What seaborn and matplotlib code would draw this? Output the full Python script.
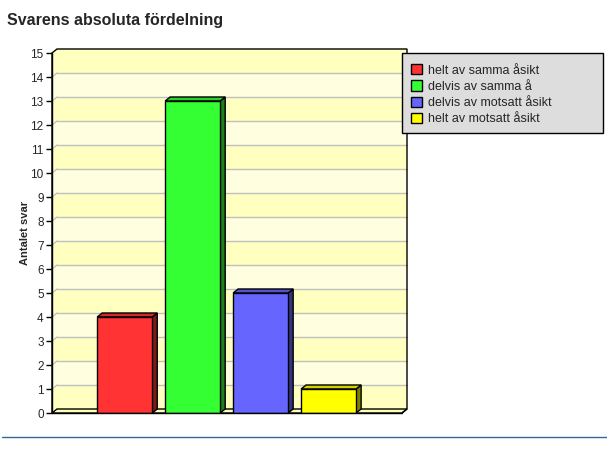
import pandas as pd
import seaborn as sns
import matplotlib.pyplot as plt
import matplotlib.transforms as mtransforms
from matplotlib.patches import Polygon, Rectangle, Patch
from matplotlib.lines import Line2D
import matplotlib.colors as mcolors

# Data
svar = ['helt av samma åsikt', 'delvis av samma å', 'delvis av motsatt åsikt', 'helt av motsatt åsikt']
antal = [4, 13, 5, 1]
farger = ['#FF3333', '#33FF33', '#6666FF', '#FFFF00']
y_ticks = list(range(0, 16))

df = pd.DataFrame({'Svar': svar, 'Antal': antal})

sns.set_style('white')
plt.rcParams['font.family'] = ['Liberation Sans', 'DejaVu Sans']

W, H = 607, 459
fig = plt.figure(figsize=(W / 100, H / 100), dpi=100)
ax = fig.add_axes([52 / W, (H - 413) / H, 350 / W, 360 / H])

# front faces first, so that the limits are set afterwards
sns.barplot(data=df, x='Svar', y='Antal', hue='Svar', palette=farger, width=0.81,
            saturation=1, dodge=False, legend=False, edgecolor='black', linewidth=1,
            ax=ax, zorder=3)
bars = list(ax.patches)

ax.set_xlim(-1.07, 4.08)
ax.set_ylim(0, 15)
for s in ax.spines.values():
    s.set_visible(False)
ax.patch.set_alpha(0)

# depth offset for 3D look (pixels)
dx, dy = 5, 4
back = mtransforms.offset_copy(ax.transData, fig=fig, x=dx, y=dy, units='dots')
x0, x1 = ax.get_xlim()
inv = ax.transData.inverted()


def pt(x, y, off):
    p = ax.transData.transform((x, y))
    return inv.transform((p[0] + off * dx, p[1] + off * dy))


# back wall and left wall bands + gridlines
for i in range(15):
    c = '#FFFFC0' if i % 2 == 0 else '#FFFFE0'
    ax.add_patch(Rectangle((x0, i), x1 - x0, 1, transform=back, facecolor=c,
                           edgecolor='none', zorder=0, clip_on=False))
    ax.add_patch(Polygon([pt(x0, i, 0), pt(x0, i + 1, 0), pt(x0, i + 1, 1), pt(x0, i, 1)],
                         facecolor=c, edgecolor='none', zorder=0, clip_on=False))
for t in y_ticks[1:-1]:
    ax.plot([x0, x1], [t, t], transform=back, color='#C0C0C0', lw=1, zorder=1, clip_on=False)
    a, b = pt(x0, t, 0), pt(x0, t, 1)
    ax.plot([a[0], b[0]], [a[1], b[1]], color='#C0C0C0', lw=1, zorder=1, clip_on=False)

# floor
floor = [pt(x0, 0, 0), pt(x1, 0, 0), pt(x1, 0, 1), pt(x0, 0, 1)]
ax.add_patch(Polygon(floor, facecolor='#FFFFC0', edgecolor='black', lw=1, zorder=1,
                     clip_on=False))

# back wall outline
outline = [pt(x0, 0, 0), pt(x0, 15, 0), pt(x0, 15, 1), pt(x1, 15, 1), pt(x1, 0, 1), pt(x1, 0, 0)]
ax.add_patch(Polygon(outline, closed=False, facecolor='none', edgecolor='black', lw=1,
                     zorder=1, clip_on=False))

# sides and tops of bars
for bar, col in zip(bars, farger):
    bx, bw, bh = bar.get_x(), bar.get_width(), bar.get_height()
    rgb = mcolors.to_rgb(col)
    side = tuple(c * 0.5 for c in rgb)
    top = tuple(c * 0.82 for c in rgb)
    ax.add_patch(Polygon([pt(bx + bw, 0, 0), pt(bx + bw, bh, 0), pt(bx + bw, bh, 1), pt(bx + bw, 0, 1)],
                         facecolor=side, edgecolor='black', lw=1, zorder=2.9, clip_on=False))
    ax.add_patch(Polygon([pt(bx, bh, 0), pt(bx + bw, bh, 0), pt(bx + bw, bh, 1), pt(bx, bh, 1)],
                         facecolor=top, edgecolor='black', lw=1, zorder=2.9, clip_on=False))

# front axes
ax.plot([x0, x0], [0, 15], color='black', lw=1, zorder=4, clip_on=False)
ax.plot([x0, x1], [0, 0], color='black', lw=1, zorder=4, clip_on=False)
ax.set_yticks(y_ticks)
ax.tick_params(axis='y', length=4, width=1, color='black', labelsize=8.5, pad=2, left=True)
ax.set_xticks([])
ax.set_xlabel('')
ax.set_ylabel('Antalet svar', fontsize=8, fontweight='bold', labelpad=0)

fig.text(7 / W, 1 - 20 / H, 'Svarens absoluta fördelning', fontsize=11.5, fontweight='bold',
         va='center', ha='left')

# legend box (fixed size) and entries
fig.add_artist(Rectangle((402 / W, 1 - 133 / H), 201 / W, 80 / H, transform=fig.transFigure,
                         facecolor='#DDDDDD', edgecolor='black', lw=1, zorder=5))
handles = [Patch(facecolor=c, edgecolor='black', label=l) for c, l in zip(farger, svar)]
leg = fig.legend(handles=handles, loc='upper left', bbox_to_anchor=(411 / W, 1 - 64 / H),
                 frameon=False, fontsize=9, handlelength=0.9, handleheight=0.9,
                 handletextpad=0.45, borderpad=0, labelspacing=0.3, borderaxespad=0)
leg.set_zorder(6)

fig.add_artist(Line2D([2 / W, 1], [1 - 437 / H, 1 - 437 / H], color='#336699', lw=1))

fig.savefig('out.png', dpi=100)
